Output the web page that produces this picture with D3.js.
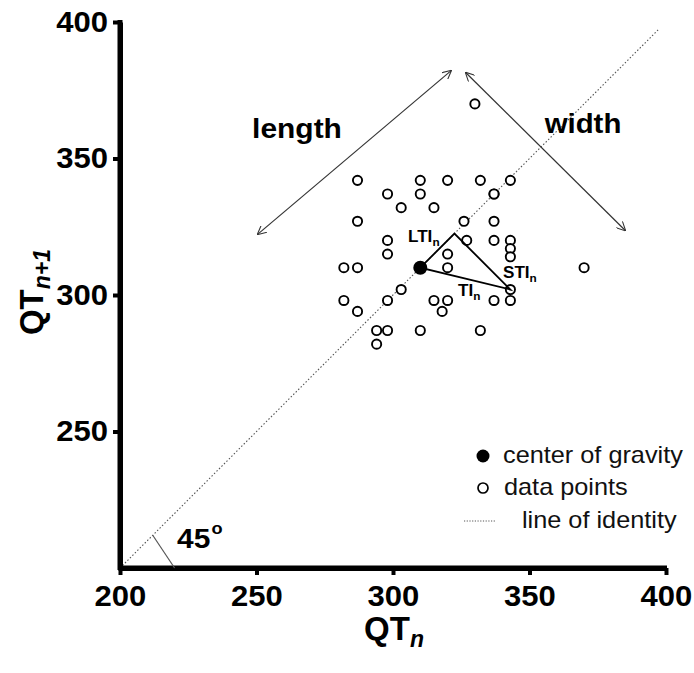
<!DOCTYPE html>
<html><head><meta charset="utf-8">
<script src="https://cdn.jsdelivr.net/npm/d3@7"></script>
<style>body{margin:0;background:#fff}svg{display:block;font-family:"Liberation Sans",Arial,sans-serif}</style>
</head><body><svg id="c" width="694" height="673"></svg>
<script>
const xTicks = [200, 250, 300, 350, 400];
const yTicks = [250, 300, 350, 400];
const dataX = [330,287,310,320,332,343,298,310,337,303,315,337,287,326,337,298,327,337,343,343,343,298,320,282,287,320,370,303,343,282,298,315,320,337,343,287,318,294,298,310,332,294];
const dataY = [370,342,342,342,342,342,337,337,337,332,332,337,327,327,327,320,320,320,320,317,314,315,315,310,310,310,310,302,302,298,298,298,298,298,298,294,294,287,287,287,287,282];
const center = [310, 310];
const tiPoint = [343, 302];
const ltiVertex = [322.5, 322.5];
const lengthArrow = [[250.5, 322.3], [321.2, 382.1]];
const widthArrow = [[326.7, 381.4], [385, 323.7]];
const identity = [[200, 200], [397.5, 397.5]];
const angleMark = [[212, 212], [220, 200]];
const legendLabels = ["center of gravity", "data points", "line of identity"];

const svg = d3.select("#c");
const x = d3.scaleLinear().domain([200, 400]).range([120, 666]);
const y = d3.scaleLinear().domain([200, 400]).range([568, 22]);

function stext(parent, px, py, str, size, weight, sx, anchor) {
  const g = parent.append("g").attr("transform", `translate(${px},${py}) scale(${sx},1)`);
  return g.append("text").attr("font-size", size).attr("font-weight", weight || "normal")
    .attr("text-anchor", anchor || "start").text(str);
}

const defs = svg.append("defs");
defs.append("marker").attr("id", "ah").attr("viewBox", "0 0 10 10")
  .attr("refX", 9).attr("refY", 5).attr("markerWidth", 9).attr("markerHeight", 9)
  .attr("markerUnits", "userSpaceOnUse").attr("orient", "auto-start-reverse")
  .append("path").attr("d", "M0,0 L10,5 L0,10").attr("fill", "none").attr("stroke", "#333").attr("stroke-width", 1.2);

// identity line
svg.append("line")
  .attr("x1", x(identity[0][0])).attr("y1", y(identity[0][1]))
  .attr("x2", x(identity[1][0])).attr("y2", y(identity[1][1]))
  .attr("stroke", "#555").attr("stroke-width", 1.1).attr("stroke-dasharray", "1.5,2");

// axes
const xAxis = svg.append("g").attr("transform", "translate(0,568)")
  .call(d3.axisBottom(x).tickValues(xTicks).tickSize(7).tickSizeOuter(0).tickPadding(10));
const yAxis = svg.append("g").attr("transform", "translate(120,0)")
  .call(d3.axisLeft(y).tickValues(yTicks).tickSize(7).tickSizeOuter(0).tickPadding(5));
[xAxis, yAxis].forEach(g => {
  g.select(".domain").attr("stroke", "#000").attr("stroke-width", 5);
  g.selectAll(".tick line").attr("stroke", "#000").attr("stroke-width", 4);
  g.selectAll(".tick text").attr("fill", "#000").attr("font-size", 29).attr("font-weight", "bold")
    .attr("font-family", "'Liberation Sans',Arial,sans-serif").attr("transform", "scale(1.07,1)");
});
yAxis.selectAll(".tick text").attr("x", -12 / 1.07);
svg.append("line").attr("x1", 120).attr("x2", 120).attr("y1", 20).attr("y2", 570).attr("stroke", "#000").attr("stroke-width", 5);
svg.append("line").attr("x1", 118).attr("x2", 667).attr("y1", 568).attr("y2", 568).attr("stroke", "#000").attr("stroke-width", 5);

// 45 deg annotation
svg.append("line").attr("x1", x(angleMark[0][0])).attr("y1", y(angleMark[0][1]))
  .attr("x2", x(angleMark[1][0])).attr("y2", y(angleMark[1][1]))
  .attr("stroke", "#555").attr("stroke-width", 1.2);
const t45 = stext(svg, 177, 548, "45", 28, "bold", 1.07);
t45.append("tspan").attr("font-size", 17).attr("dy", -14).attr("dx", 1).text("o");

// arrows
[lengthArrow, widthArrow].forEach(a => {
  svg.append("line").attr("x1", x(a[0][0])).attr("y1", y(a[0][1])).attr("x2", x(a[1][0])).attr("y2", y(a[1][1]))
    .attr("stroke", "#333").attr("stroke-width", 1.2)
    .attr("marker-start", "url(#ah)").attr("marker-end", "url(#ah)");
});
stext(svg, 297, 138, "length", 28, "bold", 1.07, "middle");
stext(svg, 583, 133, "width", 28, "bold", 1.05, "middle");

// data points
svg.append("g").selectAll("circle").data(dataX.map((d, i) => [d, dataY[i]])).join("circle")
  .attr("cx", d => x(d[0])).attr("cy", d => y(d[1])).attr("r", 4.6)
  .attr("fill", "#fff").attr("stroke", "#000").attr("stroke-width", 1.9);

// triangle
svg.append("path")
  .attr("d", `M${x(center[0])},${y(center[1])} L${x(ltiVertex[0])},${y(ltiVertex[1])} L${x(tiPoint[0])},${y(tiPoint[1])} Z`)
  .attr("fill", "none").attr("stroke", "#000").attr("stroke-width", 1.8);
svg.append("circle").attr("cx", x(center[0])).attr("cy", y(center[1])).attr("r", 7).attr("fill", "#000");

function sublabel(px, py, main, sub) {
  const t = stext(svg, px, py, main, 16, "bold", 1.07);
  t.append("tspan").attr("font-size", 11).attr("dy", 4).text(sub);
}
sublabel(408, 242, "LTI", "n");
sublabel(503, 278, "STI", "n");
sublabel(458, 296, "TI", "n");

// legend
const lg = svg.append("g").attr("fill", "#111");
lg.append("circle").attr("cx", 483).attr("cy", 456).attr("r", 6.5).attr("fill", "#000");
stext(lg, 503, 463, legendLabels[0], 23, "normal", 1.1);
lg.append("circle").attr("cx", 483).attr("cy", 488).attr("r", 5).attr("fill", "#fff").attr("stroke", "#000").attr("stroke-width", 1.7);
stext(lg, 504, 495, legendLabels[1], 23, "normal", 1.1);
lg.append("line").attr("x1", 464).attr("x2", 496).attr("y1", 521).attr("y2", 521).attr("stroke", "#555").attr("stroke-width", 1).attr("stroke-dasharray", "1.2,1.5");
stext(lg, 522, 528, legendLabels[2], 23, "normal", 1.1);

// axis labels
const xl = svg.append("text").attr("x", 394).attr("y", 640).attr("text-anchor", "middle").attr("font-size", 33).attr("font-weight", "bold").text("QT");
xl.append("tspan").attr("font-style", "italic").attr("font-size", 23).attr("dy", 7).text("n");
const yl = svg.append("text").attr("transform", "translate(43,292) rotate(-90)").attr("text-anchor", "middle").attr("font-size", 33).attr("font-weight", "bold").text("QT");
yl.append("tspan").attr("font-style", "italic").attr("font-size", 23).attr("dy", 7).text("n+1");
</script></body></html>
